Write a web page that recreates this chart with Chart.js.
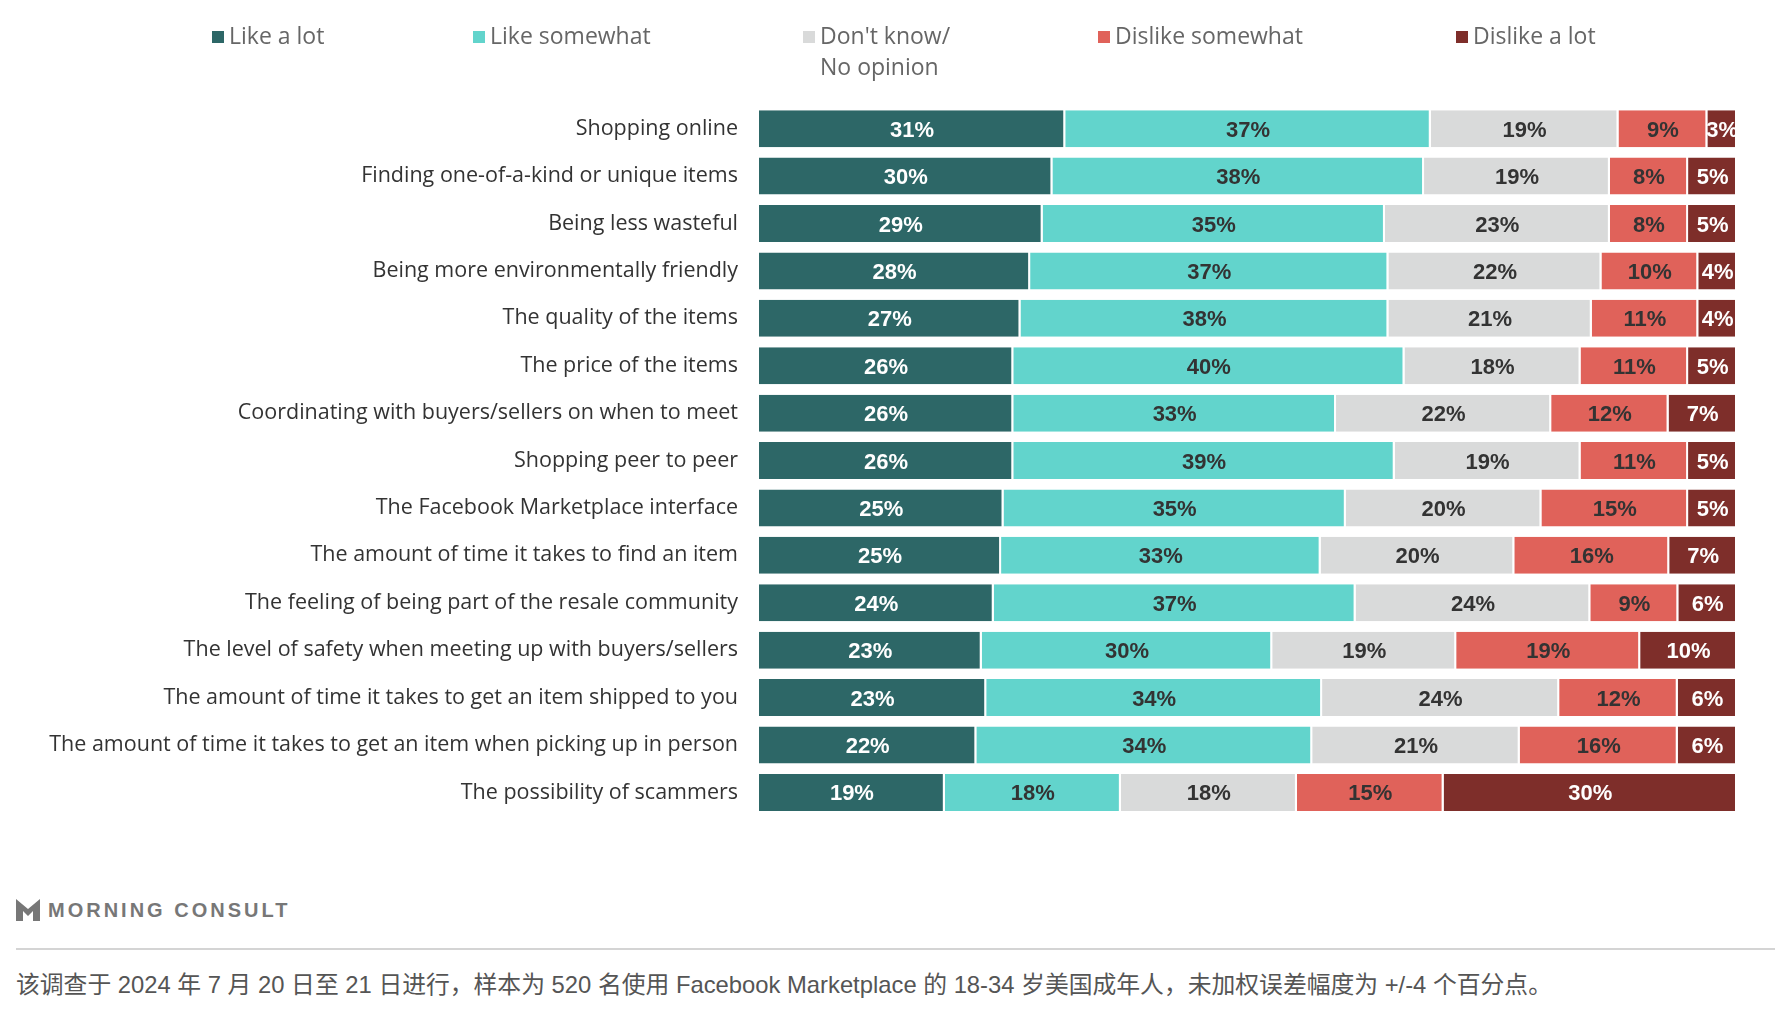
<!DOCTYPE html>
<html>
<head>
<meta charset="utf-8">
<script src="https://cdn.jsdelivr.net/npm/chart.js@4.4.1/dist/chart.umd.min.js"></script>
<style>
    body { margin: 0; background: #fff; width: 1784px; height: 1020px; position: relative; overflow: hidden; font-family: "Open Sans", Arial, sans-serif; }
    #chart { position: absolute; left: 0; top: 0; }
    .leg { position: absolute; top: 20px; font-size: 23px; color: #666; line-height: 31px; }
    .leg i { position: absolute; left: -17px; top: 11px; width: 12px; height: 12px; }
    .brand { position: absolute; left: 16px; top: 899px; height: 24px; }
    .brand span { position: absolute; left: 32px; top: 0px; font-size: 20px; font-weight: bold; color: #777; letter-spacing: 3px; white-space: nowrap; font-family: "Liberation Sans", Arial, sans-serif; }
    .rule { position: absolute; left: 16px; top: 948px; width: 1759px; height: 2px; background: #d4d4d4; }
    .note { position: absolute; left: 16px; top: 965px; font-size: 23.8px; color: #555; white-space: nowrap; font-family: "Liberation Sans", "Noto Sans CJK SC", sans-serif; }
</style>
</head>
<body>
<canvas id="chart" width="1784" height="850"></canvas>

<div class="leg" style="left:229px"><i style="background:#2d6767"></i>Like a lot</div>
<div class="leg" style="left:490px"><i style="background:#62d4cc"></i>Like somewhat</div>
<div class="leg" style="left:820px"><i style="background:#d9dada"></i>Don't know/<br>No opinion</div>
<div class="leg" style="left:1115px"><i style="background:#e0625a"></i>Dislike somewhat</div>
<div class="leg" style="left:1473px"><i style="background:#7e2e2a"></i>Dislike a lot</div>

<div class="brand">
    <svg width="24" height="22" viewBox="0 0 24 22">
        <polygon points="0,0 12,10 24,0 24,22 17,22 17,12 12,17 7,12 7,22 0,22" fill="#777"/>
    </svg>
    <span>MORNING CONSULT</span>
</div>
<div class="rule"></div>
<div class="note">该调查于 2024 年 7 月 20 日至 21 日进行，样本为 520 名使用 Facebook Marketplace 的 18-34 岁美国成年人，未加权误差幅度为 +/-4 个百分点。</div>

<script>
const categories = [
    'Shopping online',
    'Finding one-of-a-kind or unique items',
    'Being less wasteful',
    'Being more environmentally friendly',
    'The quality of the items',
    'The price of the items',
    'Coordinating with buyers/sellers on when to meet',
    'Shopping peer to peer',
    'The Facebook Marketplace interface',
    'The amount of time it takes to find an item',
    'The feeling of being part of the resale community',
    'The level of safety when meeting up with buyers/sellers',
    'The amount of time it takes to get an item shipped to you',
    'The amount of time it takes to get an item when picking up in person',
    'The possibility of scammers'
];

const likeALot       = [31, 30, 29, 28, 27, 26, 26, 26, 25, 25, 24, 23, 23, 22, 19];
const likeSomewhat   = [37, 38, 35, 37, 38, 40, 33, 39, 35, 33, 37, 30, 34, 34, 18];
const dontKnow       = [19, 19, 23, 22, 21, 18, 22, 19, 20, 20, 24, 19, 24, 21, 18];
const dislikeSomewhat = [9, 8, 8, 10, 11, 11, 12, 11, 15, 16, 9, 19, 12, 16, 15];
const dislikeALot    = [3, 5, 5, 4, 4, 5, 7, 5, 5, 7, 6, 10, 6, 6, 30];

const series = [
    { label: 'Like a lot', values: likeALot, color: '#2d6767', text: '#ffffff' },
    { label: 'Like somewhat', values: likeSomewhat, color: '#62d4cc', text: '#333333' },
    { label: "Don't know/No opinion", values: dontKnow, color: '#d9dada', text: '#333333' },
    { label: 'Dislike somewhat', values: dislikeSomewhat, color: '#e0625a', text: '#333333' },
    { label: 'Dislike a lot', values: dislikeALot, color: '#7e2e2a', text: '#ffffff' }
];

// rounded shares don't always add to 100, bars are stretched to full width
var rowSums = categories.map(function (c, i) {
    return series.reduce(function (s, d) { return s + d.values[i]; }, 0);
});

var segLabels = {
    id: 'segLabels',
    afterDatasetsDraw: function (chart) {
        var ctx = chart.ctx;
        ctx.save();
        ctx.font = 'bold 22px "Liberation Sans", Arial, sans-serif';
        ctx.textAlign = 'center';
        ctx.textBaseline = 'middle';
        chart.data.datasets.forEach(function (ds, di) {
            var meta = chart.getDatasetMeta(di);
            meta.data.forEach(function (bar, i) {
                ctx.fillStyle = series[di].text;
                ctx.fillText(series[di].values[i] + '%', (bar.x + bar.base) / 2, bar.y + 2);
            });
        });
        ctx.restore();
    }
};

var ctx = document.getElementById('chart').getContext('2d');

new Chart(ctx, {
    type: 'bar',
    data: {
        labels: categories,
        datasets: series.map(function (s) {
            return {
                label: s.label,
                data: s.values.map(function (v, i) { return v / rowSums[i] * 100; }),
                backgroundColor: s.color,
                borderColor: '#ffffff',
                borderWidth: { left: 0, top: 0, bottom: 0, right: 2 },
                borderSkipped: false,
                barPercentage: 0.78,
                categoryPercentage: 1
            };
        })
    },
    options: {
        indexAxis: 'y',
        responsive: false,
        animation: false,
        layout: { padding: { left: 0, right: 47, top: 105, bottom: 21 } },
        plugins: {
            legend: { display: false },
            tooltip: { enabled: false }
        },
        scales: {
            x: {
                stacked: true,
                min: 0,
                max: 100,
                display: false
            },
            y: {
                stacked: true,
                grid: { display: false, drawTicks: false },
                border: { display: false },
                ticks: {
                    padding: 21,
                    color: '#333333',
                    font: { size: 21.5, family: '"Open Sans", Arial, sans-serif' }
                },
                afterFit: function (scale) { scale.width = 759; }
            }
        }
    },
    plugins: [segLabels]
});
</script>
</body>
</html>
